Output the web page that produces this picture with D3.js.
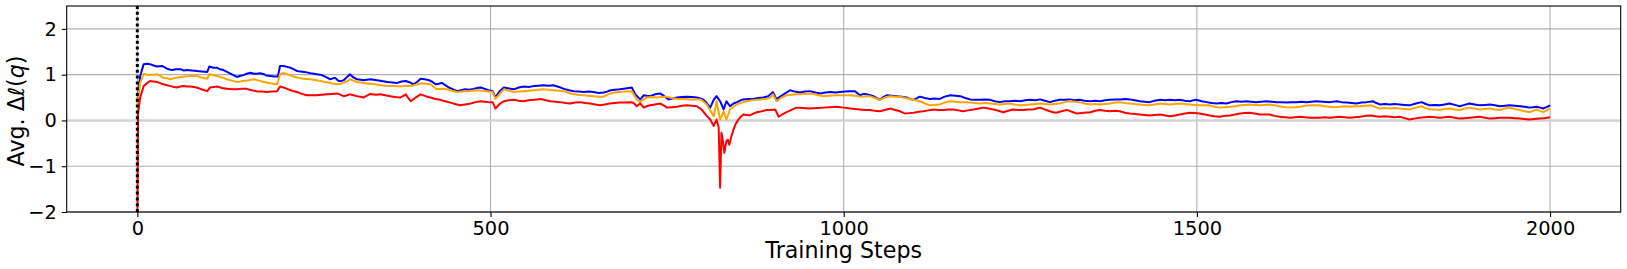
<!DOCTYPE html>
<html>
<head>
<meta charset="utf-8">
<script src="https://cdn.jsdelivr.net/npm/d3@7"></script>
<style>
body { margin: 0; background: #fff; }
svg text { font-family: "DejaVu Sans", sans-serif; fill: #000; }
</style>
</head>
<body>
<svg id="chart" width="1627" height="269"></svg>
<script>
// Ticks and the marker position (training step 0).
let xTicks = [0, 500, 1000, 1500, 2000];
let yTicks = [-2, -1, 0, 1, 2];
let markerStep = 0;

// Series, as [training step, avg. delta].
let blueSeries = [[0,0.40],[4,0.97],[9,1.23],[14,1.24],[18,1.23],[23,1.2],[28,1.18],[35,1.19],[42,1.13],[49,1.10],[55,1.12],[61,1.12],[66,1.09],[70,1.10],[77,1.09],[84,1.08],[91,1.07],[99,1.06],[102,1.18],[108,1.15],[113,1.15],[117,1.12],[122,1.10],[127,1.06],[131,1.03],[136,0.99],[141,0.95],[145,0.97],[150,0.99],[155,1.02],[160,1.04],[165,1.02],[169,1.02],[174,1.03],[179,1.01],[183,0.98],[188,0.97],[194,0.96],[199,0.96],[202,1.19],[207,1.19],[212,1.17],[217,1.15],[221,1.12],[226,1.08],[231,1.07],[236,1.06],[240,1.05],[245,1.03],[250,1.02],[254,1.01],[259,1.0],[264,0.97],[268,0.94],[273,0.90],[277,0.92],[280,0.93],[285,0.86],[289,0.86],[292,0.88],[297,0.95],[301,1.01],[306,0.94],[311,0.90],[316,0.89],[320,0.88],[325,0.89],[330,0.90],[339,0.88],[346,0.86],[354,0.84],[361,0.83],[368,0.82],[374,0.85],[380,0.86],[386,0.83],[391,0.79],[396,0.84],[401,0.91],[407,0.90],[413,0.88],[418,0.84],[422,0.79],[427,0.80],[431,0.82],[436,0.77],[441,0.72],[447,0.68],[453,0.64],[458,0.66],[464,0.68],[470,0.67],[476,0.69],[481,0.71],[486,0.72],[492,0.69],[497,0.66],[503,0.64],[507,0.50],[513,0.64],[519,0.72],[526,0.70],[533,0.68],[540,0.72],[547,0.74],[554,0.73],[561,0.75],[568,0.76],[575,0.77],[582,0.76],[589,0.77],[597,0.73],[604,0.69],[611,0.66],[618,0.64],[625,0.63],[632,0.62],[639,0.63],[646,0.62],[653,0.60],[660,0.61],[665,0.63],[670,0.66],[676,0.67],[683,0.68],[691,0.70],[700,0.72],[705,0.57],[712,0.46],[717,0.55],[721,0.54],[726,0.53],[733,0.57],[740,0.59],[746,0.53],[752,0.46],[758,0.48],[764,0.50],[771,0.51],[778,0.52],[785,0.51],[792,0.50],[797,0.48],[801,0.46],[806,0.38],[811,0.28],[816,0.45],[820,0.53],[825,0.42],[830,0.24],[834,0.42],[839,0.31],[844,0.37],[849,0.40],[854,0.44],[858,0.46],[865,0.47],[872,0.47],[879,0.49],[886,0.50],[893,0.53],[900,0.62],[905,0.46],[910,0.52],[915,0.57],[920,0.62],[924,0.66],[931,0.63],[938,0.61],[945,0.63],[952,0.64],[960,0.61],[967,0.59],[974,0.61],[981,0.62],[988,0.61],[995,0.62],[1002,0.63],[1009,0.64],[1016,0.64],[1023,0.55],[1028,0.58],[1033,0.57],[1038,0.55],[1042,0.53],[1047,0.49],[1051,0.45],[1056,0.51],[1061,0.55],[1068,0.54],[1075,0.53],[1082,0.52],[1089,0.50],[1094,0.47],[1099,0.45],[1104,0.49],[1108,0.52],[1115,0.49],[1122,0.47],[1129,0.48],[1136,0.47],[1143,0.52],[1151,0.55],[1158,0.54],[1165,0.53],[1172,0.49],[1179,0.46],[1186,0.45],[1193,0.45],[1200,0.46],[1207,0.45],[1214,0.42],[1221,0.40],[1228,0.42],[1235,0.42],[1242,0.43],[1250,0.42],[1257,0.44],[1264,0.45],[1271,0.44],[1278,0.46],[1285,0.43],[1292,0.40],[1299,0.43],[1306,0.45],[1313,0.45],[1320,0.46],[1327,0.44],[1334,0.45],[1341,0.43],[1349,0.42],[1356,0.43],[1363,0.42],[1370,0.44],[1377,0.45],[1384,0.46],[1391,0.46],[1398,0.47],[1405,0.46],[1412,0.44],[1419,0.42],[1426,0.41],[1433,0.40],[1440,0.43],[1448,0.45],[1455,0.44],[1462,0.45],[1469,0.44],[1476,0.45],[1483,0.43],[1490,0.42],[1495,0.44],[1499,0.45],[1507,0.42],[1514,0.40],[1521,0.38],[1528,0.37],[1535,0.38],[1542,0.37],[1549,0.40],[1556,0.42],[1563,0.41],[1570,0.42],[1577,0.41],[1584,0.40],[1591,0.41],[1598,0.42],[1606,0.41],[1613,0.40],[1620,0.40],[1627,0.39],[1634,0.40],[1641,0.40],[1648,0.41],[1655,0.40],[1662,0.41],[1669,0.42],[1678,0.41],[1688,0.40],[1698,0.42],[1705,0.40],[1712,0.39],[1719,0.38],[1726,0.37],[1733,0.39],[1740,0.40],[1745,0.41],[1749,0.42],[1754,0.38],[1759,0.35],[1766,0.36],[1773,0.35],[1780,0.36],[1787,0.35],[1794,0.34],[1801,0.33],[1810,0.37],[1818,0.40],[1824,0.36],[1830,0.33],[1837,0.34],[1844,0.33],[1851,0.35],[1858,0.37],[1865,0.34],[1872,0.31],[1879,0.34],[1886,0.37],[1893,0.35],[1900,0.33],[1908,0.34],[1915,0.35],[1922,0.33],[1929,0.31],[1936,0.32],[1943,0.33],[1950,0.32],[1957,0.31],[1964,0.30],[1971,0.28],[1976,0.29],[1981,0.30],[1986,0.28],[1990,0.26],[1995,0.29],[2000,0.33]];

let orangeSeries = [[0,0.35],[4,0.82],[9,1.02],[14,1.00],[18,0.99],[23,1.0],[28,1.01],[33,0.97],[37,0.93],[42,0.92],[47,0.90],[54,0.93],[61,0.95],[68,0.96],[75,0.97],[80,0.97],[84,0.97],[91,0.94],[99,0.91],[102,1.01],[108,0.99],[113,0.97],[120,0.94],[127,0.90],[134,0.87],[141,0.84],[146,0.85],[150,0.86],[158,0.88],[165,0.90],[172,0.87],[179,0.84],[186,0.82],[192,0.80],[198,0.79],[202,1.01],[207,1.04],[214,1.0],[221,0.96],[228,0.93],[235,0.91],[245,0.90],[254,0.88],[263,0.85],[273,0.82],[278,0.80],[283,0.79],[288,0.80],[292,0.82],[297,0.86],[301,0.90],[306,0.87],[311,0.84],[320,0.82],[330,0.80],[337,0.79],[344,0.77],[351,0.76],[358,0.75],[365,0.75],[372,0.74],[380,0.76],[387,0.75],[394,0.78],[401,0.81],[408,0.80],[415,0.79],[420,0.73],[424,0.68],[431,0.69],[438,0.68],[445,0.65],[453,0.62],[460,0.63],[467,0.64],[474,0.65],[481,0.66],[488,0.65],[495,0.64],[503,0.62],[507,0.47],[513,0.58],[519,0.68],[526,0.65],[533,0.62],[540,0.63],[547,0.64],[554,0.65],[561,0.66],[568,0.67],[575,0.68],[582,0.67],[589,0.66],[597,0.65],[604,0.64],[611,0.60],[618,0.57],[625,0.56],[632,0.55],[639,0.54],[646,0.53],[653,0.52],[660,0.52],[665,0.56],[670,0.59],[676,0.61],[683,0.62],[691,0.63],[700,0.64],[707,0.46],[712,0.40],[716,0.45],[721,0.50],[728,0.51],[735,0.50],[742,0.51],[750,0.52],[757,0.49],[764,0.47],[773,0.47],[783,0.46],[790,0.46],[797,0.46],[801,0.42],[806,0.35],[811,0.22],[816,0.09],[820,0.42],[825,0.02],[830,0.20],[834,0.02],[839,0.24],[844,0.30],[849,0.35],[856,0.39],[863,0.42],[870,0.44],[877,0.45],[884,0.46],[891,0.47],[896,0.50],[900,0.57],[905,0.42],[912,0.50],[919,0.55],[926,0.56],[933,0.57],[942,0.58],[952,0.59],[962,0.56],[971,0.53],[980,0.54],[990,0.55],[1000,0.55],[1009,0.55],[1016,0.54],[1023,0.52],[1030,0.53],[1037,0.53],[1044,0.49],[1051,0.45],[1058,0.50],[1066,0.53],[1073,0.52],[1080,0.52],[1087,0.49],[1094,0.47],[1101,0.44],[1108,0.42],[1115,0.37],[1122,0.33],[1129,0.34],[1136,0.35],[1143,0.39],[1151,0.42],[1158,0.41],[1165,0.40],[1172,0.40],[1179,0.39],[1186,0.38],[1193,0.37],[1200,0.38],[1207,0.37],[1214,0.36],[1221,0.35],[1228,0.36],[1235,0.37],[1242,0.35],[1250,0.33],[1257,0.34],[1264,0.35],[1271,0.36],[1278,0.37],[1285,0.36],[1292,0.35],[1299,0.36],[1306,0.37],[1313,0.40],[1320,0.42],[1327,0.41],[1334,0.40],[1341,0.37],[1349,0.35],[1356,0.36],[1363,0.35],[1370,0.36],[1377,0.37],[1384,0.39],[1391,0.40],[1398,0.38],[1405,0.37],[1412,0.36],[1419,0.35],[1426,0.34],[1433,0.33],[1440,0.35],[1448,0.37],[1455,0.36],[1462,0.35],[1469,0.36],[1476,0.37],[1483,0.36],[1490,0.35],[1497,0.34],[1504,0.33],[1511,0.33],[1518,0.33],[1525,0.30],[1532,0.28],[1540,0.29],[1547,0.30],[1554,0.31],[1561,0.33],[1568,0.34],[1575,0.35],[1582,0.34],[1589,0.33],[1596,0.34],[1603,0.35],[1610,0.33],[1617,0.31],[1625,0.29],[1632,0.28],[1639,0.29],[1646,0.30],[1653,0.32],[1660,0.33],[1667,0.33],[1674,0.33],[1681,0.31],[1688,0.30],[1695,0.29],[1702,0.30],[1709,0.31],[1716,0.30],[1723,0.31],[1731,0.31],[1739,0.32],[1747,0.33],[1753,0.29],[1759,0.26],[1766,0.27],[1773,0.26],[1780,0.27],[1787,0.26],[1794,0.25],[1801,0.24],[1810,0.28],[1818,0.31],[1824,0.27],[1830,0.24],[1837,0.24],[1844,0.23],[1851,0.25],[1858,0.26],[1865,0.24],[1872,0.23],[1879,0.26],[1886,0.28],[1893,0.26],[1900,0.24],[1908,0.25],[1915,0.26],[1922,0.24],[1929,0.23],[1936,0.26],[1943,0.28],[1950,0.25],[1957,0.23],[1964,0.20],[1971,0.18],[1976,0.21],[1981,0.24],[1986,0.21],[1990,0.18],[1995,0.22],[2000,0.26]];

let redSeries = [[0,-2.4],[1,0.15],[4,0.50],[9,0.75],[14,0.82],[18,0.86],[23,0.85],[28,0.84],[33,0.81],[37,0.79],[42,0.77],[47,0.75],[52,0.73],[56,0.72],[61,0.74],[66,0.75],[70,0.74],[75,0.74],[80,0.73],[84,0.72],[91,0.68],[99,0.64],[103,0.72],[108,0.73],[113,0.74],[120,0.71],[127,0.69],[134,0.68],[141,0.68],[148,0.69],[155,0.69],[162,0.66],[169,0.64],[176,0.63],[183,0.62],[190,0.63],[198,0.64],[202,0.74],[207,0.72],[212,0.69],[219,0.65],[226,0.62],[233,0.58],[240,0.55],[247,0.55],[254,0.55],[261,0.56],[268,0.57],[275,0.58],[283,0.59],[288,0.56],[292,0.53],[297,0.55],[301,0.57],[306,0.55],[311,0.53],[316,0.52],[320,0.50],[325,0.54],[330,0.58],[337,0.56],[344,0.57],[351,0.55],[358,0.53],[365,0.51],[372,0.50],[376,0.53],[380,0.57],[384,0.48],[387,0.42],[394,0.50],[401,0.57],[408,0.53],[415,0.50],[422,0.47],[429,0.45],[436,0.42],[443,0.39],[450,0.36],[457,0.33],[464,0.35],[472,0.37],[479,0.40],[486,0.42],[492,0.41],[497,0.40],[503,0.40],[507,0.26],[513,0.36],[519,0.42],[526,0.44],[533,0.45],[540,0.43],[547,0.42],[554,0.44],[561,0.45],[566,0.46],[571,0.47],[578,0.44],[585,0.42],[592,0.41],[599,0.40],[606,0.38],[613,0.37],[620,0.39],[627,0.40],[634,0.38],[641,0.37],[648,0.35],[655,0.33],[662,0.35],[669,0.37],[676,0.38],[683,0.39],[691,0.39],[700,0.40],[704,0.36],[707,0.31],[712,0.37],[717,0.28],[721,0.31],[726,0.33],[733,0.35],[740,0.37],[745,0.33],[750,0.28],[757,0.29],[764,0.30],[771,0.32],[778,0.33],[785,0.32],[792,0.31],[797,0.26],[801,0.20],[806,0.10],[811,0.02],[816,-0.12],[820,0.02],[823,-0.15],[825,-1.47],[827,-0.27],[829,-0.45],[831,-0.71],[834,-0.45],[836,-0.42],[838,-0.53],[841,-0.35],[844,-0.20],[847,-0.08],[851,0.02],[854,0.08],[858,0.13],[863,0.12],[867,0.11],[872,0.15],[877,0.18],[884,0.20],[891,0.23],[897,0.23],[903,0.24],[908,0.08],[913,0.13],[919,0.18],[926,0.23],[933,0.28],[942,0.27],[952,0.26],[962,0.27],[971,0.28],[980,0.29],[990,0.30],[1000,0.28],[1009,0.26],[1016,0.25],[1023,0.24],[1030,0.23],[1037,0.23],[1044,0.21],[1051,0.20],[1058,0.23],[1066,0.26],[1073,0.23],[1080,0.20],[1087,0.15],[1093,0.16],[1099,0.17],[1106,0.19],[1113,0.20],[1120,0.22],[1127,0.24],[1134,0.23],[1141,0.23],[1148,0.24],[1155,0.24],[1162,0.22],[1169,0.20],[1176,0.22],[1184,0.24],[1191,0.26],[1198,0.28],[1205,0.26],[1212,0.24],[1219,0.21],[1226,0.18],[1233,0.21],[1240,0.24],[1247,0.23],[1254,0.23],[1261,0.24],[1268,0.24],[1273,0.26],[1278,0.28],[1285,0.24],[1292,0.20],[1297,0.18],[1301,0.17],[1308,0.20],[1316,0.23],[1323,0.19],[1330,0.15],[1340,0.17],[1349,0.18],[1356,0.21],[1363,0.23],[1370,0.21],[1377,0.20],[1384,0.21],[1391,0.20],[1398,0.17],[1405,0.15],[1412,0.14],[1419,0.13],[1426,0.12],[1433,0.11],[1440,0.12],[1448,0.13],[1455,0.11],[1462,0.09],[1469,0.11],[1476,0.13],[1483,0.15],[1490,0.17],[1497,0.16],[1504,0.15],[1511,0.13],[1518,0.11],[1525,0.09],[1532,0.08],[1540,0.10],[1547,0.11],[1554,0.13],[1561,0.15],[1568,0.16],[1575,0.17],[1582,0.15],[1589,0.13],[1596,0.13],[1603,0.13],[1610,0.10],[1617,0.08],[1625,0.07],[1632,0.06],[1639,0.07],[1646,0.08],[1653,0.07],[1660,0.06],[1667,0.06],[1674,0.06],[1681,0.07],[1688,0.06],[1695,0.07],[1702,0.08],[1709,0.07],[1716,0.06],[1723,0.07],[1731,0.08],[1739,0.10],[1747,0.11],[1753,0.09],[1759,0.08],[1766,0.09],[1773,0.08],[1780,0.07],[1787,0.08],[1794,0.05],[1801,0.02],[1808,0.04],[1815,0.06],[1823,0.07],[1830,0.08],[1837,0.07],[1844,0.06],[1851,0.07],[1858,0.08],[1865,0.06],[1872,0.04],[1879,0.05],[1886,0.06],[1893,0.07],[1900,0.08],[1908,0.06],[1915,0.04],[1922,0.05],[1929,0.06],[1936,0.06],[1943,0.06],[1950,0.05],[1957,0.04],[1964,0.03],[1971,0.02],[1978,0.03],[1985,0.04],[1992,0.05],[2000,0.07]];

let series = [
    { values: blueSeries, color: "#0000ff" },
    { values: orangeSeries, color: "#ffa500" },
    { values: redSeries, color: "#ff0000" }
];

// Plot box in pixels.
let plotLeft = 66.7, plotRight = 1620.7, plotTop = 6, plotBottom = 212;

let svg = d3.select("#chart");

let x = d3.scaleLinear().domain([-100, 2100]).range([plotLeft, plotRight]);
let y = d3.scaleLinear().domain([-2, 2.5]).range([plotBottom, plotTop]);

svg.append("defs").append("clipPath")
    .attr("id", "plot-clip")
    .append("rect")
    .attr("x", plotLeft).attr("y", plotTop)
    .attr("width", plotRight - plotLeft).attr("height", plotBottom - plotTop);

// Grid
let grid = svg.append("g").attr("stroke", "#b0b0b0").attr("stroke-width", 1.1);
grid.selectAll("line.gx")
    .data(xTicks)
    .enter()
    .append("line")
    .attr("x1", d => x(d)).attr("x2", d => x(d))
    .attr("y1", plotTop).attr("y2", plotBottom);
grid.selectAll("line.gy")
    .data(yTicks)
    .enter()
    .append("line")
    .attr("x1", plotLeft).attr("x2", plotRight)
    .attr("y1", d => y(d)).attr("y2", d => y(d));

// Zero reference line
svg.append("line")
    .attr("x1", plotLeft).attr("x2", plotRight)
    .attr("y1", y(0)).attr("y2", y(0))
    .attr("stroke", "#d3d3d3")
    .attr("stroke-width", 2.6);

let line = d3.line()
    .x(d => x(d[0]))
    .y(d => y(d[1]));

svg.append("g")
    .attr("clip-path", "url(#plot-clip)")
    .selectAll("path")
    .data(series)
    .enter()
    .append("path")
    .attr("fill", "none")
    .attr("stroke", d => d.color)
    .attr("stroke-width", 2)
    .attr("stroke-linejoin", "round")
    .attr("d", d => line(d.values));

// Dotted marker at step 0
svg.append("line")
    .attr("x1", x(markerStep)).attr("x2", x(markerStep))
    .attr("y1", plotTop).attr("y2", plotBottom)
    .attr("stroke", "#000")
    .attr("stroke-width", 3)
    .attr("stroke-dasharray", "3,2.8");

// Axes
let fmt = d => String(d).replace("-", "\u2212");

let xAxis = svg.append("g")
    .attr("transform", `translate(0,${plotBottom})`)
    .call(d3.axisBottom(x).tickValues(xTicks).tickSize(4.9).tickPadding(4.2).tickSizeOuter(0).tickFormat(fmt));
let yAxis = svg.append("g")
    .attr("transform", `translate(${plotLeft},0)`)
    .call(d3.axisLeft(y).tickValues(yTicks).tickSize(4.9).tickPadding(4.9).tickSizeOuter(0).tickFormat(fmt));

[xAxis, yAxis].forEach(a => {
    a.select(".domain").remove();
    a.selectAll(".tick line").attr("stroke", "#000").attr("stroke-width", 1.1);
    a.selectAll(".tick text").attr("font-size", 19.4).attr("font-family", "DejaVu Sans").attr("fill", "#000");
});

// Frame
svg.append("rect")
    .attr("x", plotLeft).attr("y", plotTop)
    .attr("width", plotRight - plotLeft).attr("height", plotBottom - plotTop)
    .attr("fill", "none")
    .attr("stroke", "#000")
    .attr("stroke-width", 1.1);

// Labels
svg.append("text")
    .attr("x", (plotLeft + plotRight) / 2)
    .attr("y", 258)
    .attr("text-anchor", "middle")
    .attr("font-size", 22.2)
    .text("Training Steps");

let yLabel = svg.append("text")
    .attr("transform", "translate(24,111) rotate(-90)")
    .attr("text-anchor", "middle")
    .attr("font-size", 22.2);
yLabel.append("tspan").text("Avg. \u0394");
yLabel.append("tspan").attr("font-style", "italic").text("\u2113");
yLabel.append("tspan").text("(");
yLabel.append("tspan").attr("font-style", "italic").text("q");
yLabel.append("tspan").text(")");
</script>
</body>
</html>
